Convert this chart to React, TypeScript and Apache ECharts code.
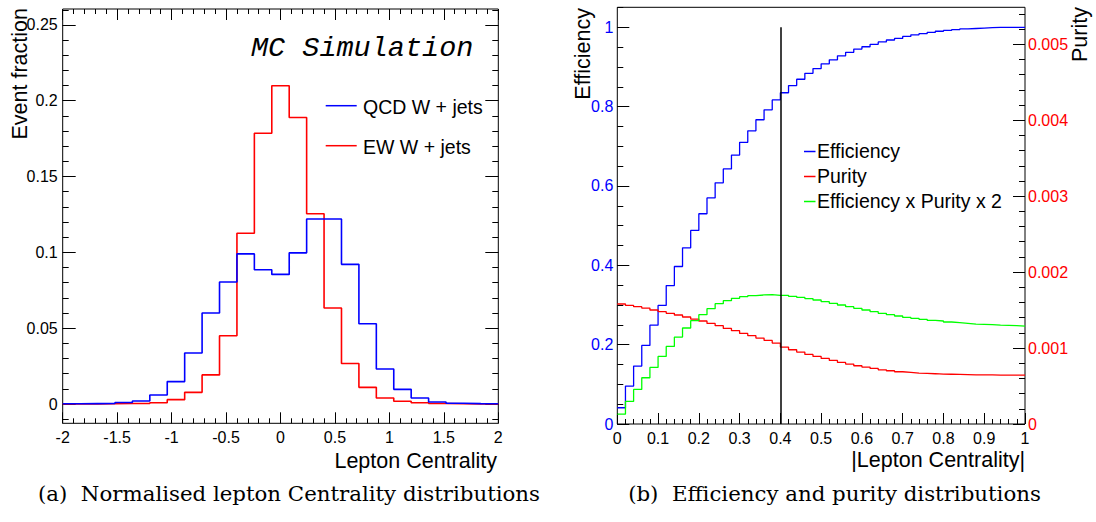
import React, { useEffect, useRef } from "react";
import * as echarts from "echarts";

// ---------- Data: panel (a) ----------
const centralityBinStart = -2;
const centralityBinWidth = 0.16;
const qcdWJets = [
  0.0002, 0.0003, 0.0004, 0.001, 0.002, 0.006, 0.0148, 0.0337, 0.06, 0.0805,
  0.099, 0.0886, 0.0855, 0.0997, 0.122, 0.122, 0.0921, 0.0529, 0.0231, 0.0097,
  0.004, 0.0013, 0.0005, 0.0003, 0.0002,
];
const ewWJets = [
  0.0001, 0.0001, 0.0002, 0.0004, 0.0004, 0.0009, 0.0029, 0.0077, 0.0192, 0.045,
  0.1126, 0.1786, 0.2099, 0.189, 0.1255, 0.0633, 0.0267, 0.011, 0.004, 0.0018,
  0.0009, 0.0004, 0.0002, 0.0001, 0.0001,
];
const leftXTicks = [-2, -1.5, -1, -0.5, 0, 0.5, 1, 1.5, 2];
const leftYTicks = [0, 0.05, 0.1, 0.15, 0.2, 0.25];

// ---------- Data: panel (b) ----------
const absBinStart = 0;
const absBinWidth = 0.02;
const efficiency = [
  0.041, 0.0957, 0.146, 0.198, 0.249, 0.299, 0.349, 0.397, 0.444, 0.488,
  0.53, 0.57, 0.608, 0.643, 0.678, 0.71, 0.739, 0.767, 0.792, 0.817,
  0.835, 0.853, 0.869, 0.884, 0.896, 0.908, 0.918, 0.928, 0.937, 0.945,
  0.951, 0.957, 0.963, 0.968, 0.972, 0.977, 0.981, 0.984, 0.987, 0.99,
  0.992, 0.994, 0.996, 0.997, 0.998, 0.999, 1.0, 1.0, 1.0, 1.0,
];
const purity = [
  0.00158, 0.001562, 0.001545, 0.001527, 0.001501, 0.001479, 0.001457, 0.001435, 0.001409, 0.001382,
  0.001356, 0.001325, 0.001295, 0.001259, 0.001229, 0.001193, 0.001163, 0.001132, 0.001101, 0.001066,
  0.001013, 0.000978, 0.000947, 0.000916, 0.00089, 0.000864, 0.000837, 0.000811, 0.000789, 0.000767,
  0.000749, 0.000732, 0.000714, 0.000701, 0.000688, 0.000679, 0.00067, 0.000666, 0.000662, 0.000657,
  0.000655, 0.000653, 0.000651, 0.000648, 0.000648, 0.000646, 0.000644, 0.000644, 0.000644, 0.000644,
];
const effTimesPurityTimes2 = [
  0.00013, 0.000297, 0.000455, 0.000609, 0.000745, 0.00089, 0.001022, 0.001145, 0.001264, 0.00136,
  0.00144, 0.001519, 0.001585, 0.001624, 0.001655, 0.001677, 0.00169, 0.001699, 0.001703, 0.001695,
  0.001695, 0.001681, 0.001668, 0.001651, 0.001633, 0.001611, 0.001589, 0.001567, 0.001545, 0.001523,
  0.001501, 0.001479, 0.001457, 0.00144, 0.001422, 0.001404, 0.001391, 0.001378, 0.001365, 0.001356,
  0.001343, 0.001334, 0.001325, 0.001316, 0.001312, 0.001308, 0.001303, 0.001299, 0.001295, 0.00129,
];
const cutValue = 0.4;
const rightXTicks = [0, 0.1, 0.2, 0.3, 0.4, 0.5, 0.6, 0.7, 0.8, 0.9, 1];
const effTicks = [0, 0.2, 0.4, 0.6, 0.8, 1];
const purityTicks = [0, 0.001, 0.002, 0.003, 0.004, 0.005];

// ---------- helpers ----------
function stepPoints(start: number, width: number, vals: number[]) {
  const pts: number[][] = [];
  vals.forEach((v, i) => {
    pts.push([start + i * width, v]);
    pts.push([start + (i + 1) * width, v]);
  });
  return pts;
}
function range(from: number, to: number, step: number) {
  const out: number[] = [];
  const n = Math.round((to - from) / step);
  for (let i = 0; i <= n; i++) out.push(+(from + i * step).toFixed(7));
  return out;
}
const fmt = (v: number) => String(+Number(v).toFixed(6));
const SANS = "Liberation Sans";

function tickAxis(opts: any) {
  const { gridIndex, min, max, position, values, length, labels, color } = opts;
  return {
    type: "value",
    gridIndex,
    min,
    max,
    position,
    axisLine: { show: false, onZero: false },
    splitLine: { show: false },
    minorTick: { show: false },
    axisTick: {
      show: true,
      inside: true,
      length,
      customValues: values,
      lineStyle: { color: "#000", width: 1 },
    },
    axisLabel: labels
      ? {
          show: true,
          customValues: values,
          color,
          fontSize: 16,
          fontFamily: SANS,
          margin: opts.margin ?? 5,
          formatter: fmt,
          showMinLabel: true,
          showMaxLabel: true,
        }
      : { show: false },
  };
}

export default function App() {
  const ref = useRef<HTMLDivElement>(null);
  useEffect(() => {
    if (!ref.current) return;
    const chart = echarts.init(ref.current, undefined, { renderer: "svg" });

    const lxMin = -2, lxMax = 2, lyMin = -0.0127, lyMax = 0.2605;
    const rxMin = 0, rxMax = 1, effMax = 1.0504, purMax = 0.005487;

    const xAxis = [
      tickAxis({ gridIndex: 0, min: lxMin, max: lxMax, position: "bottom", values: leftXTicks, length: 11, labels: true, color: "#000", margin: 6 }),
      tickAxis({ gridIndex: 0, min: lxMin, max: lxMax, position: "bottom", values: range(-2, 2, 0.1), length: 5 }),
      tickAxis({ gridIndex: 0, min: lxMin, max: lxMax, position: "top", values: leftXTicks, length: 11 }),
      tickAxis({ gridIndex: 0, min: lxMin, max: lxMax, position: "top", values: range(-2, 2, 0.1), length: 5 }),
      tickAxis({ gridIndex: 1, min: rxMin, max: rxMax, position: "bottom", values: rightXTicks, length: 11, labels: true, color: "#000", margin: 6 }),
      tickAxis({ gridIndex: 1, min: rxMin, max: rxMax, position: "bottom", values: range(0, 1, 0.02), length: 5 }),
    ];
    const yAxis = [
      tickAxis({ gridIndex: 0, min: lyMin, max: lyMax, position: "left", values: leftYTicks, length: 13, labels: true, color: "#000", margin: 5 }),
      tickAxis({ gridIndex: 0, min: lyMin, max: lyMax, position: "left", values: range(-0.01, 0.26, 0.01), length: 6 }),
      tickAxis({ gridIndex: 0, min: lyMin, max: lyMax, position: "right", values: leftYTicks, length: 13 }),
      tickAxis({ gridIndex: 0, min: lyMin, max: lyMax, position: "right", values: range(-0.01, 0.26, 0.01), length: 6 }),
      tickAxis({ gridIndex: 1, min: 0, max: effMax, position: "left", values: effTicks, length: 12, labels: true, color: "#0000ff", margin: 4 }),
      tickAxis({ gridIndex: 1, min: 0, max: effMax, position: "left", values: range(0, 1.05, 0.05), length: 6 }),
      tickAxis({ gridIndex: 1, min: 0, max: purMax, position: "right", values: purityTicks, length: 12, labels: true, color: "#ff0000", margin: 3 }),
      tickAxis({ gridIndex: 1, min: 0, max: purMax, position: "right", values: range(0, 0.0054, 0.0002), length: 6 }),
    ];

    const lineSeries = (name: string, data: number[][], color: string, xi: number, yi: number, width: number, extra: any = {}) => ({
      type: "line",
      name,
      data,
      xAxisIndex: xi,
      yAxisIndex: yi,
      showSymbol: false,
      symbol: "none",
      lineStyle: { color, width },
      itemStyle: { color },
      z: 3,
      ...extra,
    });

    const text = (t: string, x: number, y: number, size: number, o: any = {}) => ({
      type: "text",
      x,
      y,
      rotation: o.rotation || 0,
      style: {
        text: t,
        fontSize: size,
        fontFamily: o.family || SANS,
        fontStyle: o.style || "normal",
        fill: o.fill || "#000",
        textAlign: o.align || "left",
        align: o.align || "left",
        textVerticalAlign: "middle",
        verticalAlign: "middle",
      },
    });
    const seg = (x1: number, x2: number, y: number, color: string) => ({
      type: "line",
      shape: { x1, y1: y, x2, y2: y },
      style: { stroke: color, lineWidth: 1.5 },
    });

    chart.setOption({
      animation: false,
      backgroundColor: "#fff",
      grid: [
        { left: 62.7, top: 9, width: 435.6, height: 414.3, show: true, borderColor: "#000", borderWidth: 1, backgroundColor: "transparent", outerBoundsMode: "none" },
        { left: 617.3, top: 7.3, width: 407.7, height: 416.7, show: true, borderColor: "#000", borderWidth: 1, backgroundColor: "transparent", outerBoundsMode: "none" },
      ],
      xAxis,
      yAxis,
      series: [
        lineSeries("EW W + jets", stepPoints(centralityBinStart, centralityBinWidth, ewWJets), "#ff0000", 0, 0, 1.6),
        lineSeries("QCD W + jets", stepPoints(centralityBinStart, centralityBinWidth, qcdWJets), "#0000ff", 0, 0, 1.6),
        lineSeries("Efficiency", stepPoints(absBinStart, absBinWidth, efficiency), "#0000ff", 4, 4, 1.3, {
          markLine: {
            silent: true,
            symbol: ["none", "none"],
            label: { show: false },
            lineStyle: { color: "#000", width: 1.5, type: "solid" },
            data: [[{ coord: [cutValue, 0] }, { coord: [cutValue, 1] }]],
          },
        }),
        lineSeries("Purity", stepPoints(absBinStart, absBinWidth, purity), "#ff0000", 4, 6, 1.3),
        lineSeries("Efficiency x Purity x 2", stepPoints(absBinStart, absBinWidth, effTimesPurityTimes2), "#00ff00", 4, 6, 1.3),
      ],
      graphic: [
        // panel (a)
        text("Event fraction", 20, 8, 21.5, { rotation: Math.PI / 2, align: "right" }),
        text("Lepton Centrality", 497, 461, 21.5, { align: "right" }),
        text("MC Simulation", 251, 48.5, 28.5, { family: "Liberation Mono", style: "italic" }),
        seg(325.7, 356.7, 105.7, "#0000ff"),
        text("QCD W + jets", 363, 106.5, 19.5),
        seg(325.7, 356.7, 145.7, "#ff0000"),
        text("EW W + jets", 363, 146.5, 19.5),
        text("(a)  Normalised lepton Centrality distributions", 289, 493, 21.3, { family: "DejaVu Serif", align: "center" }),
        // panel (b)
        text("Efficiency", 583, 8, 21.5, { rotation: Math.PI / 2, align: "right" }),
        text("Purity", 1080, 7, 21.5, { rotation: Math.PI / 2, align: "right" }),
        text("|Lepton Centrality|", 1025, 460, 21.5, { align: "right" }),
        seg(804, 815.5, 151.5, "#0000ff"),
        text("Efficiency", 817, 150.5, 19.5),
        seg(804, 815.5, 176.5, "#ff0000"),
        text("Purity", 817, 175.5, 19.5),
        seg(804, 815.5, 201.5, "#00ff00"),
        text("Efficiency x Purity x 2", 817, 200.5, 19.5),
        text("(b)  Efficiency and purity distributions", 834.5, 493, 21.3, { family: "DejaVu Serif", align: "center" }),
      ],
    });
    return () => chart.dispose();
  }, []);
  return (
    <div
      ref={ref}
      style={{ position: "fixed", left: 0, top: 0, width: 1096, height: 522, background: "#fff" }}
    />
  );
}
